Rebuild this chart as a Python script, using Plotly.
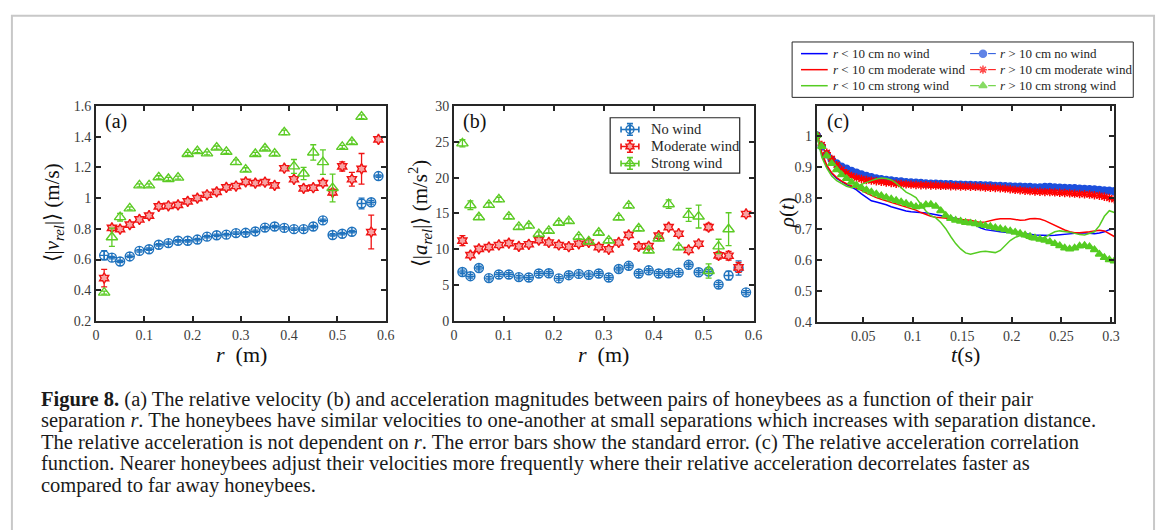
import plotly.graph_objects as go
import numpy as np

W, H = 1167, 530

# ---------------- data ----------------
r_bins = [0.017, 0.033, 0.05, 0.07, 0.09, 0.11, 0.13, 0.15, 0.17, 0.19, 0.21, 0.23,
          0.25, 0.27, 0.29, 0.31, 0.33, 0.35, 0.37, 0.39, 0.41, 0.43, 0.45, 0.47,
          0.49, 0.51, 0.53, 0.55, 0.57, 0.585]
r_green = r_bins[:28]

# (a) relative velocity
v_no = [0.627, 0.612, 0.587, 0.620, 0.656, 0.667, 0.696, 0.707, 0.722, 0.722, 0.730, 0.749,
        0.758, 0.762, 0.772, 0.774, 0.783, 0.808, 0.815, 0.806, 0.798, 0.798, 0.815, 0.855,
        0.760, 0.768, 0.781, 0.965, 0.973, 1.144]
v_no_err = [0.030, 0.008, 0.008, 0.008, 0.008, 0.008, 0.008, 0.008, 0.008, 0.008, 0.008, 0.008,
            0.008, 0.008, 0.008, 0.008, 0.008, 0.008, 0.008, 0.008, 0.008, 0.008, 0.008, 0.008,
            0.008, 0.008, 0.008, 0.035, 0.012, 0.008]
v_mod = [0.479, 0.806, 0.798, 0.827, 0.861, 0.886, 0.946, 0.950, 0.956, 0.979, 1.000, 1.022,
         1.041, 1.070, 1.079, 1.106, 1.098, 1.104, 1.083, 1.195, 1.123, 1.064, 1.068, 1.098,
         1.038, 1.207, 1.123, 1.191, 0.779, 1.383]
v_mod_err = [0.057, 0.015, 0.010, 0.010, 0.010, 0.010, 0.010, 0.010, 0.010, 0.010, 0.010, 0.010,
             0.010, 0.010, 0.010, 0.010, 0.010, 0.010, 0.010, 0.010, 0.010, 0.010, 0.010, 0.012,
             0.020, 0.030, 0.045, 0.100, 0.110, 0.010]
v_str = [0.384, 0.745, 0.876, 0.933, 1.083, 1.083, 1.136, 1.125, 1.134, 1.288, 1.307, 1.292,
         1.330, 1.302, 1.235, 1.186, 1.288, 1.324, 1.290, 1.429, 1.207, 1.161, 1.298, 1.235,
         1.066, 1.334, 1.366, 1.531]
v_str_err = [0.010, 0.060, 0.025, 0.010, 0.010, 0.010, 0.010, 0.010, 0.010, 0.010, 0.010, 0.010,
             0.010, 0.010, 0.015, 0.012, 0.010, 0.010, 0.012, 0.015, 0.045, 0.040, 0.050, 0.080,
             0.090, 0.010, 0.012, 0.012]

# (b) relative acceleration
a_no = [6.83, 6.24, 7.38, 5.97, 6.47, 6.47, 6.11, 6.06, 6.61, 6.65, 5.93, 6.38,
        6.56, 6.43, 6.61, 6.06, 7.24, 7.69, 6.61, 7.06, 6.61, 6.65, 6.74, 7.83,
        6.79, 6.90, 5.07, 6.33, 7.38, 3.98]
a_no_err = [0.25, 0.25, 0.25, 0.25, 0.25, 0.25, 0.25, 0.25, 0.25, 0.25, 0.25, 0.25,
            0.25, 0.25, 0.25, 0.25, 0.25, 0.25, 0.25, 0.25, 0.25, 0.25, 0.25, 0.25,
            0.25, 0.25, 0.30, 0.60, 1.00, 0.25]
a_mod = [11.2, 9.19, 10.05, 10.3, 10.6, 10.86, 10.4, 10.7, 11.27, 10.95, 10.6, 10.36,
         10.77, 10.95, 10.3, 10.0, 10.95, 12.0, 10.4, 10.45, 11.9, 13.1, 12.17, 9.9,
         10.77, 13.1, 9.14, 9.1, 7.47, 14.93]
a_mod_err = [0.70, 0.25, 0.25, 0.25, 0.25, 0.25, 0.25, 0.25, 0.25, 0.25, 0.25, 0.25,
             0.25, 0.25, 0.25, 0.25, 0.25, 0.25, 0.25, 0.25, 0.25, 0.25, 0.25, 0.25,
             0.25, 0.50, 0.50, 0.60, 0.70, 0.25]
a_str = [24.8, 16.15, 14.48, 16.2, 16.97, 14.57, 13.12, 13.3, 12.13, 12.58, 13.7, 13.94,
         11.76, 11.09, 12.31, 11.22, 14.43, 16.1, 12.9, 9.82, 11.5, 16.3, 10.27, 14.8,
         14.57, 6.97, 10.4, 12.8]
a_str_err = [0.50, 0.60, 0.30, 0.30, 0.30, 0.30, 0.30, 0.30, 0.30, 0.30, 0.30, 0.30,
             0.30, 0.30, 0.30, 0.30, 0.30, 0.30, 0.30, 0.30, 0.30, 0.60, 0.30, 0.90,
             1.60, 1.00, 1.00, 2.30]

# (c) relative acceleration correlation
t_c = np.round(0.0033 + 0.005 * np.arange(61), 4)
rho_near_no = [1.0, 0.94, 0.9, 0.878, 0.862, 0.851, 0.842, 0.834, 0.825, 0.812, 0.8, 0.79, 0.786,
               0.782, 0.777, 0.771, 0.766, 0.761, 0.757, 0.755, 0.754, 0.753, 0.751, 0.748, 0.745,
               0.743, 0.741, 0.737, 0.733, 0.729, 0.725, 0.72, 0.712, 0.703, 0.697, 0.694, 0.692,
               0.69, 0.689, 0.688, 0.687, 0.686, 0.684, 0.682, 0.68, 0.679, 0.678, 0.678, 0.679,
               0.681, 0.683, 0.684, 0.685, 0.686, 0.687, 0.685, 0.684, 0.686, 0.69, 0.697, 0.70]
rho_near_mod = [1.0, 0.945, 0.905, 0.88, 0.865, 0.853, 0.845, 0.838, 0.832, 0.824, 0.815, 0.807,
                0.8, 0.795, 0.79, 0.785, 0.78, 0.775, 0.77, 0.765, 0.76, 0.752, 0.745, 0.74, 0.737,
                0.735, 0.733, 0.732, 0.731, 0.73, 0.729, 0.727, 0.723, 0.72, 0.722, 0.727, 0.73,
                0.732, 0.733, 0.732, 0.73, 0.727, 0.728, 0.732, 0.733, 0.731, 0.726, 0.718, 0.71,
                0.703, 0.696, 0.69, 0.687, 0.687, 0.688, 0.69, 0.693, 0.695, 0.693, 0.684, 0.675]
rho_near_str = [1.0, 0.93, 0.895, 0.87, 0.855, 0.845, 0.837, 0.832, 0.835, 0.843, 0.85, 0.855,
                0.86, 0.863, 0.862, 0.857, 0.847, 0.832, 0.818, 0.81, 0.8, 0.778, 0.757, 0.742,
                0.735, 0.72, 0.7, 0.675, 0.652, 0.635, 0.622, 0.618, 0.622, 0.626, 0.627, 0.625,
                0.623, 0.63, 0.645, 0.662, 0.672, 0.678, 0.673, 0.665, 0.665, 0.668, 0.672, 0.682,
                0.69, 0.693, 0.692, 0.689, 0.685, 0.681, 0.68, 0.684, 0.69, 0.71, 0.74, 0.758, 0.752]
rho_far_no = [1.0, 0.965, 0.94, 0.922, 0.91, 0.9, 0.893, 0.886, 0.88, 0.875, 0.87, 0.866, 0.862,
              0.859, 0.857, 0.855, 0.853, 0.852, 0.85, 0.849, 0.848, 0.847, 0.846, 0.845, 0.845,
              0.844, 0.843, 0.843, 0.842, 0.842, 0.841, 0.841, 0.84, 0.84, 0.839, 0.839, 0.838,
              0.838, 0.837, 0.836, 0.835, 0.835, 0.834, 0.834, 0.833, 0.833, 0.834, 0.834, 0.833,
              0.832, 0.831, 0.83, 0.83, 0.829, 0.828, 0.827, 0.826, 0.825, 0.823, 0.822, 0.821]
rho_far_mod = [1.0, 0.97, 0.945, 0.925, 0.905, 0.89, 0.879, 0.87, 0.864, 0.86, 0.857, 0.855,
               0.853, 0.851, 0.849, 0.847, 0.845, 0.844, 0.843, 0.842, 0.841, 0.84, 0.84, 0.839,
               0.839, 0.838, 0.838, 0.837, 0.837, 0.836, 0.836, 0.835, 0.835, 0.834, 0.833, 0.832,
               0.831, 0.83, 0.829, 0.827, 0.825, 0.824, 0.822, 0.821, 0.82, 0.819, 0.818, 0.818,
               0.817, 0.816, 0.815, 0.814, 0.813, 0.812, 0.811, 0.81, 0.808, 0.806, 0.803, 0.799, 0.795]
rho_far_str = [1.0, 0.965, 0.935, 0.91, 0.89, 0.874, 0.862, 0.85, 0.84, 0.832, 0.825, 0.818,
               0.812, 0.806, 0.801, 0.796, 0.791, 0.786, 0.781, 0.776, 0.771, 0.772, 0.777, 0.778,
               0.772, 0.758, 0.743, 0.733, 0.727, 0.724, 0.72, 0.718, 0.716, 0.713, 0.71, 0.707,
               0.703, 0.7, 0.697, 0.693, 0.689, 0.685, 0.68, 0.675, 0.67, 0.666, 0.663, 0.658,
               0.652, 0.645, 0.638, 0.635, 0.638, 0.644, 0.646, 0.642, 0.632, 0.618, 0.607, 0.6, 0.596]

wind_names = ["No wind", "Moderate wind", "Strong wind"]
near_names = ["<i>r</i> &lt; 10 cm no wind", "<i>r</i> &lt; 10 cm moderate wind",
              "<i>r</i> &lt; 10 cm strong wind"]
far_names = ["<i>r</i> &gt; 10 cm no wind", "<i>r</i> &gt; 10 cm moderate wind",
             "<i>r</i> &gt; 10 cm strong wind"]

caption_lines = [
    "<b>Figure 8.</b> (a) The relative velocity (b) and acceleration magnitudes between pairs of honeybees as a function of their pair",
    "separation <i>r</i>. The honeybees have similar velocities to one-another at small separations which increases with separation distance.",
    "The relative acceleration is not dependent on <i>r</i>. The error bars show the standard error. (c) The relative acceleration correlation",
    "function. Nearer honeybees adjust their velocities more frequently where their relative acceleration decorrelates faster as",
    "compared to far away honeybees.",
]

# ---------------- styling ----------------
SERIF = "Liberation Serif, Times New Roman, serif"
C_BLUE = "#1f72bd"
C_RED = "#f01414"
C_RED_FILL = "#f7a3a3"
C_GREEN = "#5ccb25"
C_BLUE_L = "#0000ff"
C_BLUE_M = "#1d4fdc"
C_RED_L = "#ff0000"
C_GREEN_L = "#55cc22"
DARK = "#262626"


def fx(p):
    return p / W


def fy(p):
    return 1 - p / H


fig = go.Figure()

sym = {"No wind": "circle-cross-open", "Moderate wind": "hexagram", "Strong wind": "triangle-up-open"}
col = {"No wind": C_BLUE, "Moderate wind": C_RED, "Strong wind": C_GREEN}
fillc = {"No wind": C_BLUE, "Moderate wind": C_RED_FILL, "Strong wind": C_GREEN}
msize = {"No wind": 9, "Moderate wind": 8, "Strong wind": 10}


def add_err(x, y, e, name, xa, ya):
    fig.add_trace(go.Scatter(
        x=x, y=y, mode="markers", name=name, xaxis=xa, yaxis=ya, showlegend=False,
        marker=dict(symbol=sym[name], size=msize[name], color=fillc[name],
                    line=dict(width=1.4, color=col[name])),
        error_y=dict(type="data", array=e, visible=True, color=col[name], thickness=1.3, width=3),
    ))


add_err(r_bins, v_no, v_no_err, wind_names[0], "x", "y")
add_err(r_bins, v_mod, v_mod_err, wind_names[1], "x", "y")
add_err(r_green, v_str, v_str_err, wind_names[2], "x", "y")
add_err(r_bins, a_no, a_no_err, wind_names[0], "x2", "y2")
add_err(r_bins, a_mod, a_mod_err, wind_names[1], "x2", "y2")
add_err(r_green, a_str, a_str_err, wind_names[2], "x2", "y2")

# (c)
near = [rho_near_no, rho_near_mod, rho_near_str]
far = [rho_far_no, rho_far_mod, rho_far_str]
lcol = [C_BLUE_L, C_RED_L, C_GREEN_L]
mcol = [C_BLUE_M, C_RED_L, C_GREEN_L]
msym = ["circle", "asterisk-open", "triangle-up"]
for i in range(3):
    fig.add_trace(go.Scatter(x=t_c, y=near[i], mode="lines", name=near_names[i],
                             xaxis="x3", yaxis="y3", showlegend=False,
                             line=dict(color=lcol[i], width=1.5)))
    fig.add_trace(go.Scatter(x=t_c, y=far[i], mode="lines+markers", name=far_names[i],
                             xaxis="x3", yaxis="y3", showlegend=False,
                             line=dict(color=mcol[i], width=1, dash="dashdot"),
                             marker=dict(symbol=msym[i], size=7, color=mcol[i],
                                         line=dict(width=1.5, color=mcol[i]))))

# ---------------- hand-built legends on a pixel overlay axis ----------------
ann = []
rows_c = [48, 64.5, 81]
for i in range(3):
    yy = rows_c[i]
    fig.add_trace(go.Scatter(x=[806, 833], y=[yy, yy], mode="lines", xaxis="x4", yaxis="y4",
                             showlegend=False, hoverinfo="skip",
                             line=dict(color=lcol[i], width=1.5)))
    fig.add_trace(go.Scatter(x=[977, 990, 1003], y=[yy, yy, yy], mode="lines+markers",
                             xaxis="x4", yaxis="y4", showlegend=False, hoverinfo="skip",
                             line=dict(color=mcol[i], width=1, dash="dash"),
                             marker=dict(symbol=msym[i], size=[0, 7, 0], color=mcol[i],
                                         line=dict(width=1.5, color=mcol[i]))))
    ann.append(dict(text=near_names[i], x=fx(836), y=fy(yy), xanchor="left", yanchor="middle"))
    ann.append(dict(text=far_names[i], x=fx(1005), y=fy(yy), xanchor="left", yanchor="middle"))
for a in ann:
    a.update(xref="paper", yref="paper", showarrow=False,
             font=dict(family=SERIF, size=13, color=DARK))

rows_b = [126, 143.5, 161]
for i in range(3):
    yy = rows_b[i]
    name = wind_names[i]
    fig.add_trace(go.Scatter(x=[633], y=[yy], mode="markers", xaxis="x4", yaxis="y4",
                             showlegend=False, hoverinfo="skip",
                             marker=dict(symbol=sym[name], size=msize[name] - 1, color=fillc[name],
                                         line=dict(width=1.4, color=col[name])),
                             error_x=dict(type="data", array=[9], color=col[name], thickness=1.6, width=3),
                             error_y=dict(type="data", array=[6], color=col[name], thickness=1.6, width=3)))
    ann.append(dict(text=name, x=fx(652), y=fy(yy), xanchor="left", yanchor="middle",
                    xref="paper", yref="paper", showarrow=False,
                    font=dict(family=SERIF, size=14.5, color=DARK)))

axis_common = dict(showline=True, linewidth=2, linecolor=DARK, mirror="ticks",
                   ticks="inside", ticklen=5, tickwidth=1.5, tickcolor=DARK,
                   showgrid=False, zeroline=False,
                   tickfont=dict(family=SERIF, size=14, color="#3c3c3c"))

yd = [fy(323), fy(102)]
fig.update_layout(
    width=W, height=H, margin=dict(l=0, r=0, t=0, b=0), showlegend=False,
    paper_bgcolor="white", plot_bgcolor="rgba(0,0,0,0)",
    xaxis=dict(domain=[fx(93), fx(386)], range=[0, 0.6], dtick=0.1, anchor="y", **axis_common),
    yaxis=dict(domain=yd, range=[0.2, 1.6], dtick=0.2, anchor="x", **axis_common),
    xaxis2=dict(domain=[fx(455), fx(758)], range=[0, 0.6], dtick=0.1, anchor="y2", **axis_common),
    yaxis2=dict(domain=yd, range=[0, 30], dtick=5, anchor="x2", **axis_common),
    xaxis3=dict(domain=[fx(822), fx(1123)], range=[0.0033, 0.3035],
                tickvals=[0.05, 0.1, 0.15, 0.2, 0.25, 0.3], anchor="y3", **axis_common),
    yaxis3=dict(domain=[fy(324), fy(102)], range=[0.4, 1.095],
                tickvals=[0.4, 0.5, 0.6, 0.7, 0.8, 0.9, 1.0], anchor="x3", **axis_common),
    xaxis4=dict(domain=[0, 1], range=[0, W], visible=False, fixedrange=True, anchor="y4"),
    yaxis4=dict(domain=[0, 1], range=[H, 0], visible=False, fixedrange=True, anchor="x4"),
)

for txt, x, y in [("(a)", 100, 118), ("(b)", 462, 118), ("(c)", 830, 118)]:
    ann.append(dict(text=txt, x=fx(x), y=fy(y), xref="paper", yref="paper", showarrow=False,
                    xanchor="left", yanchor="middle", font=dict(family=SERIF, size=20, color="#111")))
for txt, x in [("<i>r</i>  (m)", 240), ("<i>r</i>  (m)", 606), ("<i>t</i>(s)", 972)]:
    ann.append(dict(text=txt, x=fx(x), y=fy(358), xref="paper", yref="paper", showarrow=False,
                    xanchor="center", yanchor="middle", font=dict(family=SERIF, size=22, color="#111")))
for txt, x in [("⟨|<i>v</i><sub><i>rel</i></sub>|⟩ (m/s)", 50),
               ("⟨|<i>a</i><sub><i>rel</i></sub>|⟩ (m/s<sup>2</sup>)", 420),
               ("<i>ρ</i>(<i>t</i>)", 792)]:
    ann.append(dict(text=txt, x=fx(x), y=fy(212), xref="paper", yref="paper", showarrow=False,
                    textangle=-90, xanchor="center", yanchor="middle",
                    font=dict(family=SERIF, size=21, color="#111")))
for i, line in enumerate(caption_lines):
    ann.append(dict(text=line, x=fx(35), y=fy(404 + 22 * i), xref="paper", yref="paper",
                    showarrow=False, xanchor="left", yanchor="middle", align="left",
                    font=dict(family=SERIF, size=20.5, color="#1a1a1a")))
fig.update_layout(annotations=ann)

fig.add_shape(type="rect", xref="paper", yref="paper", x0=fx(8), x1=fx(1163), y0=fy(560), y1=fy(9),
              line=dict(color="#c8c8c8", width=2), fillcolor="rgba(0,0,0,0)", layer="below")
fig.add_shape(type="rect", xref="paper", yref="paper", x0=fx(797), x1=fx(1142), y0=fy(93), y1=fy(36),
              line=dict(color=DARK, width=1), fillcolor="white", layer="below")
fig.add_shape(type="rect", xref="paper", yref="paper", x0=fx(613), x1=fx(744), y0=fy(171), y1=fy(114),
              line=dict(color=DARK, width=1.2), fillcolor="white", layer="below")

fig.write_html("out.html")
